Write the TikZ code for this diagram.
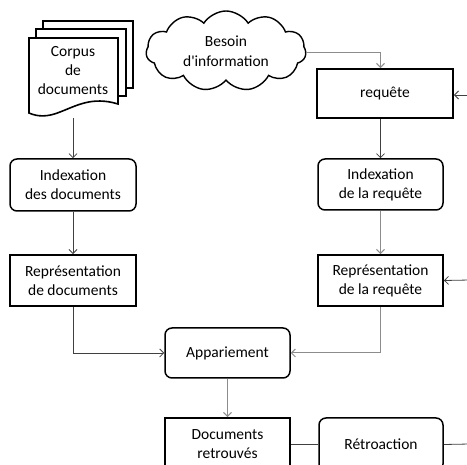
\documentclass[tikz,border=0pt]{standalone}
\usepackage{fontspec}
\setmainfont{Carlito}
\usetikzlibrary{arrows.meta,shapes.symbols}
\tikzset{
  base/.style={draw=black, fill=white, align=center, inner sep=2pt,
    font=\fontsize{15.5}{19}\selectfont},
  rbox/.style={base, rounded corners=7pt, line width=1.5pt},
  sbox/.style={base, line width=1.9pt},
  conn/.style={draw=black!75, line width=0.8pt, -{Straight Barb[length=4pt,width=8pt]}},
  conng/.style={draw=black!45, line width=1pt, -{Straight Barb[length=4pt,width=8pt]}},
  link/.style={draw=black!75, line width=0.8pt},
  page/.style={draw=black, fill=white, line width=1.6pt},
}
\begin{document}
\begin{tikzpicture}[x=1pt,y=-1pt]
\useasboundingbox (0,0) rectangle (467,465);
\clip (0,0) rectangle (467,465);
% document stack
\draw[page] (43,21) rectangle (133,88);
\draw[page] (36,29) rectangle (126,96);
\draw[page] (29,38) -- (118,38) -- (118,104)
  .. controls (92,96) and (76,106) .. (60,112)
  .. controls (48,117) and (38,117) .. (29,113) -- cycle;
\node[align=center, font=\fontsize{15.5}{19}\selectfont] (corpus) at (73,71) {Corpus\\de\\documents};
\coordinate (corpusb) at (73,118);
% cloud
\node[cloud, cloud puffs=11, cloud puff arc=115, aspect=2.1, draw, line width=1.4pt,
  minimum width=160pt, minimum height=80pt, align=center, inner sep=0pt,
  font=\fontsize{15.5}{20}\selectfont] (cloud) at (226,51) {Besoin\\d\textquotesingle information};
% boxes
\node[sbox, minimum width=136pt, minimum height=49pt] (req) at (385,93.5) {requête};
\node[rbox, minimum width=126pt, minimum height=52pt] (idxdoc) at (73,185) {Indexation\\des documents};
\node[sbox, minimum width=126pt, minimum height=51pt] (repdoc) at (73,280.5) {Représentation\\de documents};
\node[rbox, minimum width=125pt, minimum height=51pt] (idxreq) at (380.5,184.5) {Indexation\\de la requête};
\node[sbox, minimum width=125pt, minimum height=51pt] (repreq) at (380.5,280.5) {Représentation\\de la requête};
\node[rbox, minimum width=125pt, minimum height=50pt] (app) at (227.5,353) {Appariement};
\node[sbox, minimum width=125pt, minimum height=53pt] (docs) at (227.5,444.5) {Documents\\retrouvés};
\node[rbox, minimum width=124pt, minimum height=53pt] (retro) at (381,444.5) {Rétroaction};
% free ends
\coordinate (reqin) at (470,95);
\coordinate (repin) at (470,280);
\coordinate (retout) at (470,444);
\coordinate (cloudout) at (306,53);
% connectors
\draw[conn] (corpusb) -- (idxdoc.north);
\draw[conn] (idxdoc.south) -- (repdoc.north);
\draw[conn] (repdoc.south) |- (app.west);
\draw[conng] (cloudout) -| (req.north -| idxreq.north);
\draw[conn] (req.south -| idxreq.north) -- (idxreq.north);
\draw[conng] (idxreq.south) -- (repreq.north);
\draw[conng] (repreq.south) |- (app.east);
\draw[conng] (app.south) -- (docs.north);
\draw[conn] (reqin) -- (reqin -| req.east);
\draw[conn] (repin) -- (repreq.east);
\draw[link] (docs.east |- retro.west) -- (retro.west);
\draw[link] (retro.east) -- (retout);
\end{tikzpicture}
\end{document}
